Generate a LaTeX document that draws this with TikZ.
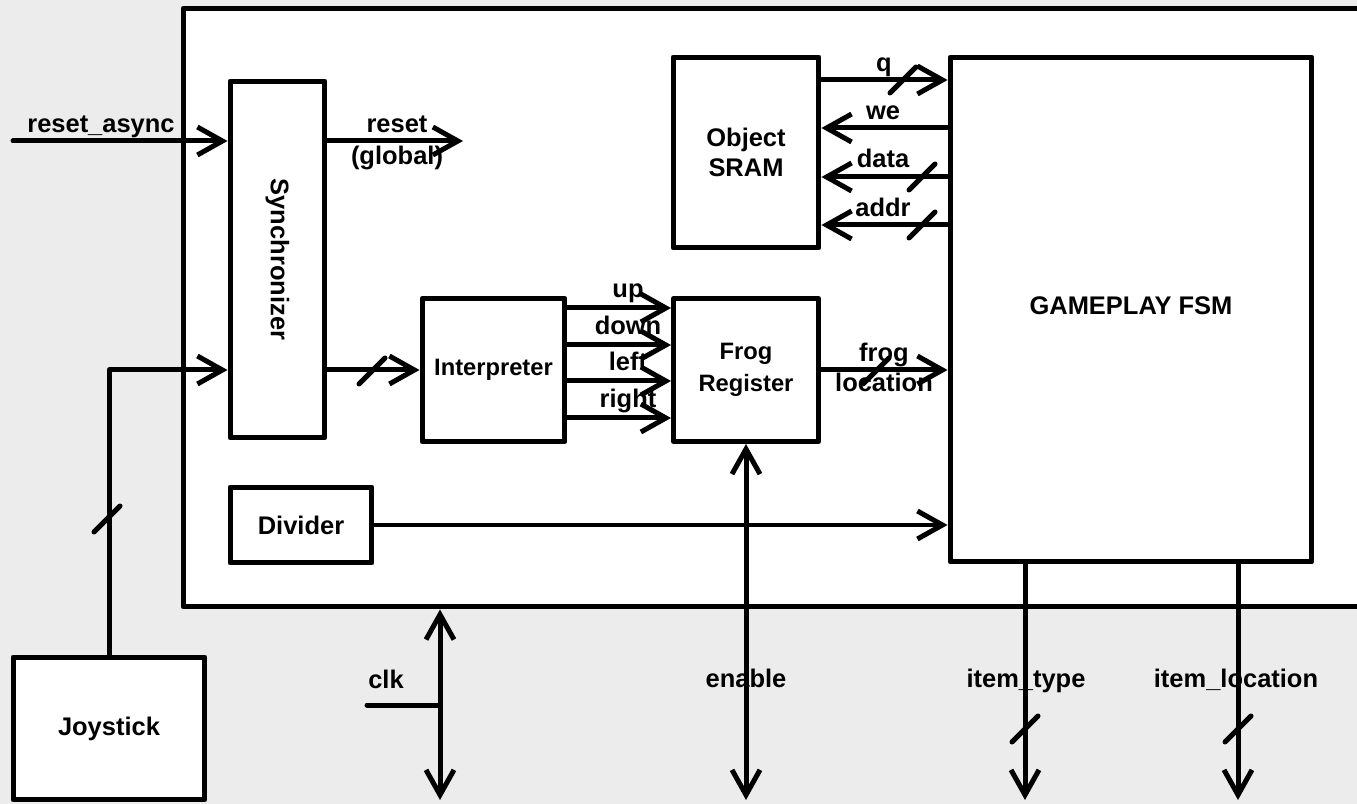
\documentclass[tikz,border=0pt]{standalone}
\usepackage{fontspec}
\setmainfont{Liberation Sans}
\usetikzlibrary{arrows.meta,positioning,calc}
\definecolor{ink}{HTML}{000000}
\definecolor{paper}{HTML}{ECECEC}
\newcommand{\lblfont}{\fontsize{14.5}{17}\selectfont\bfseries}
\newcommand{\smallfont}{\fontsize{13.5}{18}\selectfont\bfseries}

\begin{document}
\begin{tikzpicture}[
  x=0.02cm, y=-0.02cm, line width=0.1cm, line cap=round, line join=round,
  blk/.style={draw=ink, fill=white, line width=0.1cm, font=\lblfont, align=center, inner sep=0pt},
  lbl/.style={font=\lblfont, text=ink, inner sep=0pt, anchor=base},
  wire/.style={draw=ink, line width=0.1cm},
  sig/.style={wire, -{Straight Barb[length=0.5cm, width=0.56cm]}},
  bisig/.style={wire, {Straight Barb[length=0.5cm, width=0.56cm]}-{Straight Barb[length=0.5cm, width=0.56cm]}},
  bus/.pic={\draw[-, ink, line width=0.1cm] (-13,13) -- (13,-13);}]

% ============================================== page and chip outline
\fill[paper] (0,0) rectangle (1357,804);
\useasboundingbox (0,0) rectangle (1357,804);
\node[blk, minimum width=24.74cm, minimum height=11.98cm] (chip) at (801.5,307.5) {};

% ============================================== blocks
\node[blk, minimum width=1.9cm, minimum height=7.14cm] (sync) at (277.5,259.5) {};
\node[lbl, anchor=center, rotate=-90] (synctxt) at (sync) {Synchronizer};
\node[blk, font=\smallfont, minimum width=2.86cm, minimum height=2.86cm] (intp) at (493.5,370) {Interpreter};
\node[blk, font=\smallfont, minimum width=2.9cm, minimum height=2.86cm] (frog) at (746,370) {Frog\\Register};
\node[blk, minimum width=2.92cm, minimum height=3.82cm] (sram) at (746,152.5) {Object\\SRAM};
\node[blk, minimum width=7.24cm, minimum height=10.1cm] (fsm) at (1131,309.5) {};
\node[lbl, anchor=center] (fsmtxt) at (1131,306) {GAMEPLAY FSM};
\node[blk, minimum width=2.84cm, minimum height=1.52cm] (div) at (301,525) {Divider};
\node[blk, minimum width=3.84cm, minimum height=2.86cm] (joy) at (109,728.5) {Joystick};

% ============================================== reset
\coordinate (rstin) at (13,141);
\coordinate (rstout) at (463,141);
\draw[sig] (rstin) -- (rstin -| sync.west);
\draw[sig] (rstout -| sync.east) -- (rstout);
\node[lbl] (rstlbl) at (101,133) {reset\_async};
\node[lbl] (glbl) at (397,133) {reset};
\node[lbl] (glbl2) at (397,165) {(global)};

% ============================================== joystick path
\draw[sig] (joy.north) |- (sync.west |- intp.west);
\pic at (107,519) {bus};
\draw[sig] (sync.east |- intp.west) -- (intp.west);
\pic at (372,371) {bus};

% directions into the frog register
\foreach \dy/\dir in {-62/up,-25/down,11/left,48/right}{
  \draw[sig] ($(intp.east)+(0,\dy)$) -- ($(frog.west)+(0,\dy)$);
  \node[lbl] at ($(628,370)+(0,\dy-10)$) {\dir};
}

% frog location
\draw[sig] (frog.east) -- (frog.east -| fsm.west);
\pic at (876,371) {bus};
\node[lbl] (floc) at (884,362) {frog};
\node[lbl] (floc2) at (884,392) {location};

% ============================================== object memory
\draw[sig] ($(sram.east)+(0,-72.5)$) -- ($(sram.east -| fsm.west)+(0,-72.5)$);
\pic at (903,80) {bus};
\node[lbl] (qlbl) at (884,72) {q};
\draw[sig] ($(sram.east -| fsm.west)+(0,-24.5)$) -- ($(sram.east)+(0,-24.5)$);
\node[lbl] (welbl) at (883,120) {we};
\draw[sig] ($(sram.east -| fsm.west)+(0,24.5)$) -- ($(sram.east)+(0,24.5)$);
\pic at (922,177) {bus};
\node[lbl] (dlbl) at (883,168) {data};
\draw[sig] ($(sram.east -| fsm.west)+(0,72.5)$) -- ($(sram.east)+(0,72.5)$);
\pic at (922,225) {bus};
\node[lbl] (albl) at (883,217) {addr};

% divider tick
\draw[sig] (div.east) -- (div.east -| fsm.west);

% ============================================== bottom pins
\coordinate (clkout) at (440,800);
\coordinate (clkin) at (367,705);
\draw[bisig] (chip.south -| clkout) -- (clkout);
\draw[wire] (clkin) -- (clkin -| clkout);
\node[lbl] (clklbl) at (386,688) {clk};

\coordinate (enout) at (746,800);
\draw[bisig] (frog.south) -- (enout);
\node[lbl] (enlbl) at (746,687) {enable};

\coordinate (typeout) at (1025,800);
\draw[sig] (fsm.south -| typeout) -- (typeout);
\pic at (1025,729) {bus};
\node[lbl] (typelbl) at (1026,687) {item\_type};

\coordinate (locout) at (1238,800);
\draw[sig] (fsm.south -| locout) -- (locout);
\pic at (1238,729) {bus};
\node[lbl] (loclbl) at (1236,687) {item\_location};

\end{tikzpicture}
\end{document}
